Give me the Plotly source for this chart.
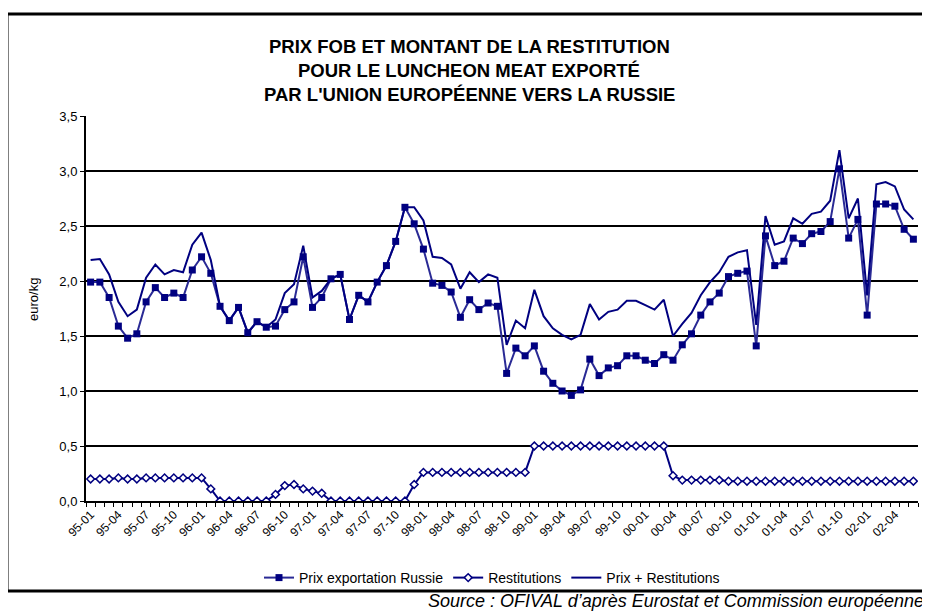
import plotly.graph_objects as go

# Monthly categories 95-01 .. 02-06
months = [f"{y:02d}-{m:02d}" for y in [95, 96, 97, 98, 99, 0, 1, 2] for m in range(1, 13)][:90]

prix_export = [1.99, 1.99, 1.85, 1.59, 1.48, 1.52, 1.81, 1.94, 1.85, 1.89, 1.85, 2.10, 2.22,
               2.07, 1.77, 1.64, 1.76, 1.53, 1.63, 1.58, 1.59, 1.74, 1.81, 2.22, 1.76, 1.85,
               2.02, 2.06, 1.65, 1.87, 1.81, 1.99, 2.14, 2.36, 2.67, 2.52, 2.29, 1.98, 1.96,
               1.90, 1.67, 1.83, 1.74, 1.80, 1.77, 1.16, 1.39, 1.32, 1.41, 1.18, 1.07, 1.00,
               0.96, 1.01, 1.29, 1.14, 1.21, 1.23, 1.32, 1.32, 1.28, 1.25, 1.33, 1.28, 1.42,
               1.52, 1.69, 1.81, 1.89, 2.04, 2.07, 2.09, 1.41, 2.41, 2.14, 2.18, 2.39, 2.34,
               2.43, 2.45, 2.54, 3.02, 2.39, 2.56, 1.69, 2.70, 2.70, 2.68, 2.47, 2.38]

restitutions = [0.20, 0.20, 0.20, 0.21, 0.20, 0.20, 0.21, 0.21, 0.21, 0.21, 0.21, 0.21, 0.21,
                0.11, 0.00, 0.00, 0.00, 0.00, 0.00, 0.00, 0.06, 0.14, 0.15, 0.11, 0.09, 0.07,
                0.00, 0.00, 0.00, 0.00, 0.00, 0.00, 0.00, 0.00, 0.00, 0.15, 0.26, 0.26, 0.26,
                0.26, 0.26, 0.26, 0.26, 0.26, 0.26, 0.26, 0.26, 0.26, 0.50, 0.50, 0.50, 0.50,
                0.50, 0.50, 0.50, 0.50, 0.50, 0.50, 0.50, 0.50, 0.50, 0.50, 0.50, 0.23, 0.19,
                0.19, 0.19, 0.19, 0.19, 0.18, 0.18, 0.18, 0.18, 0.18, 0.18, 0.18, 0.18, 0.18,
                0.18, 0.18, 0.18, 0.18, 0.18, 0.18, 0.18, 0.18, 0.18, 0.18, 0.18, 0.18]

prix_plus_rest = [2.19, 2.20, 2.06, 1.81, 1.68, 1.74, 2.03, 2.15, 2.06, 2.10, 2.08, 2.33, 2.44,
                  2.19, 1.77, 1.64, 1.76, 1.53, 1.63, 1.58, 1.65, 1.89, 1.97, 2.32, 1.85, 1.91,
                  2.02, 2.06, 1.65, 1.87, 1.81, 1.99, 2.14, 2.36, 2.67, 2.67, 2.55, 2.22, 2.21,
                  2.15, 1.93, 2.08, 1.99, 2.06, 2.03, 1.42, 1.64, 1.57, 1.92, 1.68, 1.57, 1.51,
                  1.47, 1.51, 1.79, 1.65, 1.72, 1.74, 1.82, 1.82, 1.78, 1.74, 1.83, 1.50, 1.61,
                  1.71, 1.87, 1.99, 2.08, 2.22, 2.26, 2.28, 1.60, 2.59, 2.33, 2.36, 2.57, 2.52,
                  2.61, 2.63, 2.73, 3.19, 2.57, 2.75, 1.87, 2.88, 2.90, 2.86, 2.65, 2.56]

tick_labels = months[::3]

FONT = "Liberation Sans, Arial, sans-serif"
NAVY = "#000080"

xs = list(range(len(months)))

fig = go.Figure()
fig.add_trace(go.Scatter(
    x=xs, y=prix_export, name="Prix exportation Russie", mode="lines+markers",
    line=dict(color="#2a2a95", width=2),
    marker=dict(symbol="square", size=7, color=NAVY)))
fig.add_trace(go.Scatter(
    x=xs, y=restitutions, name="Restitutions", mode="lines+markers",
    line=dict(color=NAVY, width=2),
    marker=dict(symbol="diamond", size=6, color="white", line=dict(color=NAVY, width=1.5))))
fig.add_trace(go.Scatter(
    x=xs, y=prix_plus_rest, name="Prix + Restitutions", mode="lines",
    line=dict(color=NAVY, width=2)))

# page body has an 8px margin: figure coordinates = page coordinates - 8
OFF = 8
W, H = 930 - OFF, 613 - OFF
L = 86 - OFF
T = 116 - OFF
R = W - (918 - OFF)
B = H - (501 - OFF)
pw, ph = W - L - R, H - T - B


def px(x):  # page pixel x -> paper
    return (x - OFF - L) / pw


def py(y):  # page pixel y -> paper
    return (H - B - (y - OFF)) / ph


fig.update_layout(
    width=W, height=H,
    margin=dict(l=L, r=R, t=T, b=B, pad=0),
    paper_bgcolor="white", plot_bgcolor="white",
    separators=", ",
    font=dict(family=FONT, size=12, color="black"),
    showlegend=True,
    legend=dict(orientation="h", x=px(492), y=py(578), xanchor="center", yanchor="middle",
                font=dict(family=FONT, size=14, color="black"), bgcolor="rgba(0,0,0,0)",
                itemwidth=30, tracegroupgap=0),
    xaxis=dict(
        range=[-0.5, len(months) - 0.5],
        tickmode="array", tickvals=xs[::3], ticktext=tick_labels,
        tickangle=-45, tickfont=dict(family=FONT, size=12, color="black"),
        ticks="", showgrid=False, zeroline=False,
        showline=True, linecolor="black", linewidth=2,
        minor=dict(tickmode="linear", tick0=-0.5, dtick=1, ticks="outside",
                   ticklen=4, tickcolor="black", tickwidth=1, showgrid=False),
    ),
    yaxis=dict(
        range=[0, 3.5], dtick=0.5, tick0=0, tickformat=".1f",
        tickfont=dict(family=FONT, size=13, color="black"),
        ticks="outside", ticklen=4, tickcolor="black", tickwidth=1,
        showgrid=True, gridcolor="black", gridwidth=1.5,
        zeroline=False, showline=True, linecolor="black", linewidth=2,
    ),
)

title_lines = ["PRIX FOB ET MONTANT DE LA RESTITUTION",
               "POUR LE LUNCHEON MEAT EXPORTÉ",
               "PAR L'UNION EUROPÉENNE VERS LA RUSSIE"]
for txt, yy in zip(title_lines, [46.5, 70.5, 94.5]):
    fig.add_annotation(text=f"<b>{txt}</b>", x=px(469), y=py(yy), xref="paper", yref="paper",
                       xanchor="center", yanchor="middle", showarrow=False,
                       font=dict(family=FONT, size=18.5, color="black"))

fig.add_annotation(text="euro/kg", x=px(33), y=py(300), xref="paper", yref="paper",
                   textangle=-90, xanchor="center", yanchor="middle", showarrow=False,
                   font=dict(family=FONT, size=13, color="black"))

fig.add_annotation(text="<i>Source : OFIVAL d’après Eurostat et Commission européenne</i>",
                   x=px(926), y=py(601), xref="paper", yref="paper",
                   xanchor="right", yanchor="middle", showarrow=False,
                   font=dict(family=FONT, size=18, color="black"))

# outer frame
fig.add_shape(type="rect", xref="paper", yref="paper",
              x0=px(7), x1=px(945), y0=py(591), y1=py(14),
              line=dict(color="black", width=3), fillcolor="rgba(0,0,0,0)", layer="above")

fig.write_html("out.html")
